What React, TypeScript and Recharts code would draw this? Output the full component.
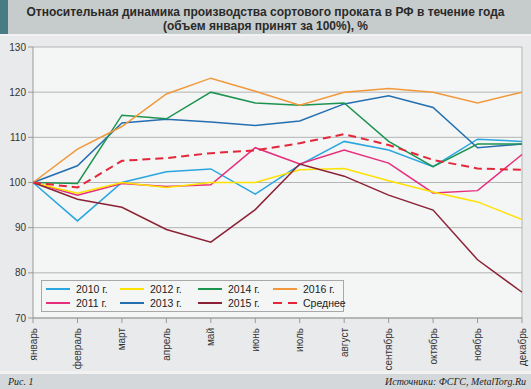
import React from 'react';
import { LineChart, Line, XAxis, YAxis, CartesianGrid, ReferenceLine, Legend } from 'recharts';

const months = ['январь', 'февраль', 'март', 'апрель', 'май', 'июнь', 'июль', 'август', 'сентябрь', 'октябрь', 'ноябрь', 'декабрь'];
const y2010 = [100, 91.5, 100, 102.4, 103.0, 97.4, 103.9, 109.1, 107.2, 103.5, 109.6, 109.1];
const y2011 = [100, 97.2, 99.8, 99.1, 99.5, 107.7, 104.1, 107.2, 104.3, 97.7, 98.2, 106.2];
const y2012 = [100, 97.6, 100, 98.9, 100, 100, 102.8, 103.1, 100.4, 97.9, 95.7, 91.8];
const y2013 = [100, 103.7, 113.2, 114.0, 113.4, 112.6, 113.6, 117.4, 119.2, 116.6, 107.7, 108.5];
const y2014 = [100, 99.8, 114.9, 114.1, 120.0, 117.6, 117.1, 117.6, 109.1, 103.5, 108.5, 108.5];
const y2015 = [100, 96.3, 94.5, 89.6, 86.8, 94.0, 104.1, 101.4, 97.2, 93.9, 82.9, 75.7];
const y2016 = [100, 107.4, 112.4, 119.6, 123.1, 120.2, 117.1, 120.0, 120.8, 120.0, 117.6, 120.0];
const avg = [100, 98.9, 104.8, 105.4, 106.5, 107.1, 108.7, 110.7, 108.3, 105.0, 103.1, 102.8];
const yTicks = [70, 80, 90, 100, 110, 120, 130];

const series = [
  { key: 's2010', name: '2010 г.', values: y2010, color: '#2aa6e0', dash: undefined as string | undefined, width: 1.5 },
  { key: 's2011', name: '2011 г.', values: y2011, color: '#e62d7c', dash: undefined, width: 1.5 },
  { key: 's2012', name: '2012 г.', values: y2012, color: '#fde200', dash: undefined, width: 1.5 },
  { key: 's2013', name: '2013 г.', values: y2013, color: '#256fb1', dash: undefined, width: 1.5 },
  { key: 's2014', name: '2014 г.', values: y2014, color: '#1d9350', dash: undefined, width: 1.5 },
  { key: 's2015', name: '2015 г.', values: y2015, color: '#8c2236', dash: undefined, width: 1.5 },
  { key: 's2016', name: '2016 г.', values: y2016, color: '#f1993a', dash: undefined, width: 1.5 },
  { key: 'avg', name: 'Среднее', values: avg, color: '#e3273a', dash: '8 5', width: 2 },
];

const data = months.map((m, i) => {
  const row: Record<string, string | number> = { month: m };
  series.forEach((s) => { row[s.key] = s.values[i]; });
  return row;
});

const FONT = '"Liberation Sans", Arial, sans-serif';

const XTick = (props: any) => {
  const { x, y, payload } = props;
  const ty = y + 3;
  return (
    <text x={x} y={ty} dy="0.35em" textAnchor="end" transform={`rotate(-90, ${x}, ${ty})`}
      fontSize={10} fill="#333" fontFamily={FONT}>
      {payload.value}
    </text>
  );
};

const renderLegend = () => {
  const colX = [4, 78, 156, 231];
  const order = [[0, 1], [2, 3], [4, 5], [6, 7]];
  return (
    <div style={{ position: 'relative', width: 303, height: 32, boxSizing: 'border-box', border: '1px solid #a8a8a8', background: '#f4f5f5' }}>
      {order.map((col, ci) => col.map((si, ri) => {
        const s = series[si];
        return (
          <div key={s.key} style={{ position: 'absolute', left: colX[ci], top: 1 + ri * 14, height: 14, display: 'flex', alignItems: 'center' }}>
            <svg width={26} height={4} style={{ display: 'block' }}>
              <line x1={0} y1={2} x2={s.dash ? 26 : 24} y2={2} stroke={s.color} strokeWidth={2} strokeDasharray={s.dash ? '9 6' : undefined} />
            </svg>
            <span style={{ marginLeft: 4, fontSize: 10.5, color: '#222', fontFamily: FONT, whiteSpace: 'nowrap' }}>{s.name}</span>
          </div>
        );
      }))}
    </div>
  );
};

export default function App() {
  return (
    <div style={{ position: 'absolute', left: 0, top: 0, width: 531, height: 389, background: '#e9eaeb', overflow: 'hidden', fontFamily: FONT }}>
      <div style={{ position: 'absolute', left: 0, top: 0, width: 531, height: 34, background: '#c6cccc' }} />
      <div style={{ position: 'absolute', left: 0, top: 0, width: 8, height: 34, background: '#477c84' }} />
      <div style={{ position: 'absolute', left: 0, top: 34, width: 531, height: 2, background: '#f2f2f2' }} />
      <div style={{ position: 'absolute', left: 0, top: 5, width: 531, textAlign: 'center', fontWeight: 'bold', fontSize: 12, lineHeight: '14px', color: '#2a2a2a' }}>
        Относительная динамика производства сортового проката в РФ в течение года<br />(объем января принят за 100%), %
      </div>
      <div style={{ position: 'absolute', left: 0, top: 371, width: 531, height: 3, background: '#f2f2f2' }} />
      <div style={{ position: 'absolute', left: 0, top: 374, width: 531, height: 15, background: '#d4d8da' }} />
      <div style={{ position: 'absolute', left: 8, top: 374, height: 15, lineHeight: '15px', fontFamily: '"Liberation Serif", serif', fontStyle: 'italic', fontSize: 10, color: '#222' }}>Рис. 1</div>
      <div style={{ position: 'absolute', right: 5, top: 374, height: 15, lineHeight: '15px', fontFamily: '"Liberation Serif", serif', fontStyle: 'italic', fontSize: 10, color: '#222' }}>Источники: ФСГС, MetalTorg.Ru</div>
      <div style={{ position: 'absolute', left: 0, top: 0 }}>
        <LineChart width={531} height={389} data={data} margin={{ top: 47, right: 9, left: 0, bottom: 21 }}>
          <CartesianGrid vertical={false} stroke="#b4b4b4" fill="#f4f5f5" />
          <XAxis dataKey="month" interval={0} height={50} tick={<XTick />} tickSize={5} stroke="#9a9a9a" tickLine={{ stroke: '#9a9a9a' }} />
          <YAxis domain={[70, 130]} ticks={yTicks} width={33} tickSize={5} stroke="#9a9a9a" tick={{ fontSize: 10, fill: '#333', fontFamily: FONT }} />
          <ReferenceLine x="декабрь" stroke="#b4b4b4" />
          <Legend layout="horizontal" verticalAlign="middle" align="center" wrapperStyle={{ left: 41, top: 280, width: 303, height: 32 }} content={renderLegend} />
          {series.map((s) => (
            <Line key={s.key} type="linear" dataKey={s.key} name={s.name} stroke={s.color} strokeWidth={s.width}
              strokeDasharray={s.dash} dot={false} activeDot={false} isAnimationActive={false} />
          ))}
        </LineChart>
      </div>
    </div>
  );
}
